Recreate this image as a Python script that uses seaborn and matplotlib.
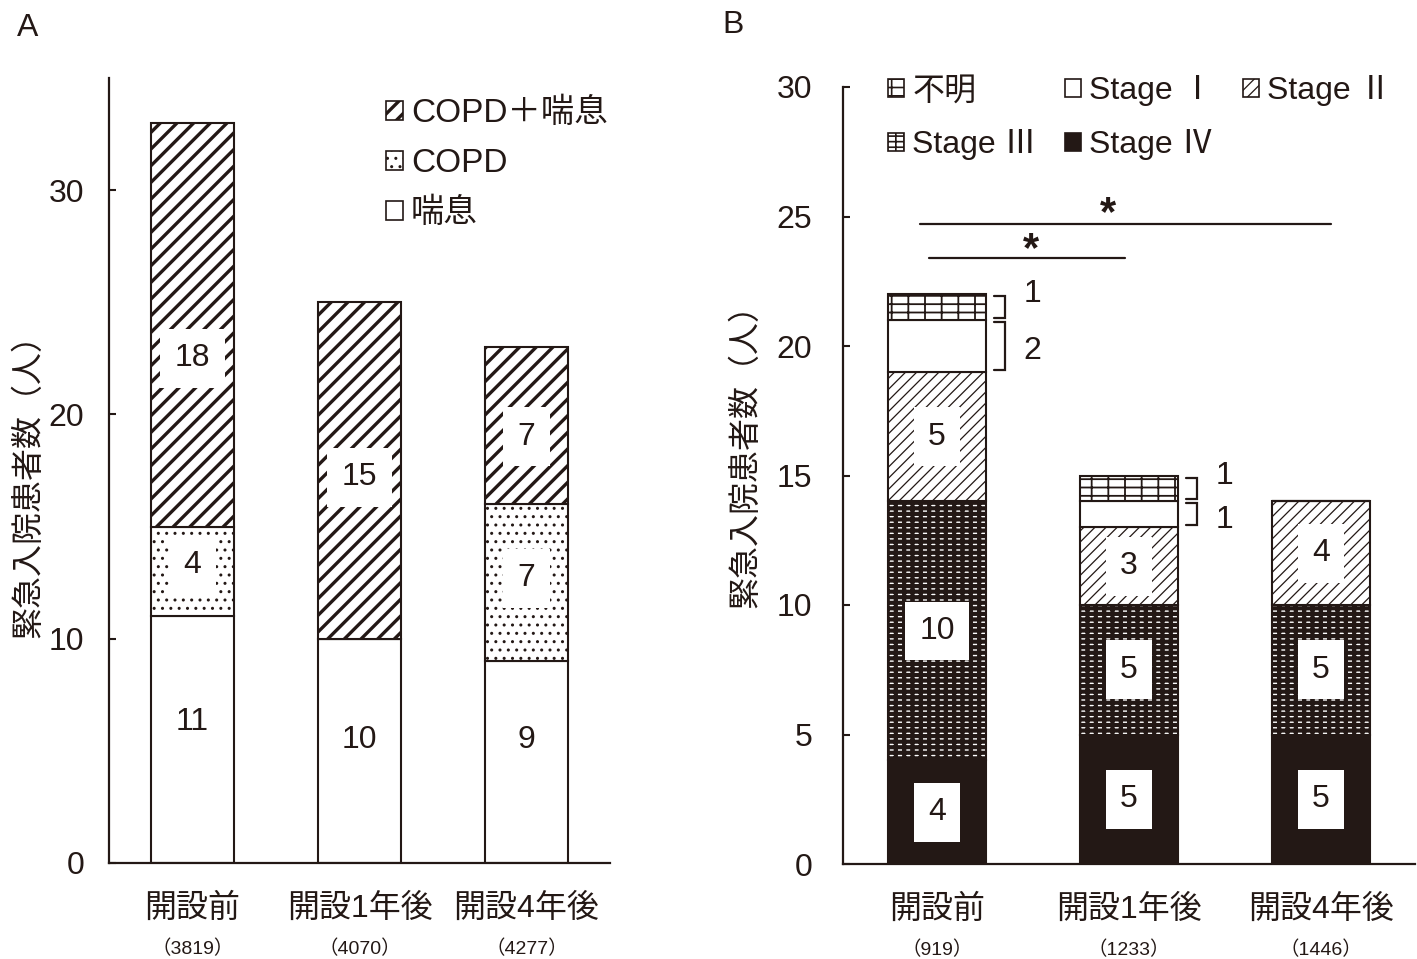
import numpy as np
import pandas as pd
import matplotlib
matplotlib.use("Agg")
import matplotlib.pyplot as plt
import matplotlib.transforms as mtrans
from matplotlib.patches import Patch
import seaborn as sns

# ---------------- data ----------------
periods = ['開設前', '開設1年後', '開設4年後']
n_a = ['（3819）', '（4070）', '（4277）']
n_b = ['（919）', '（1233）', '（1446）']

# Panel A
asthma = [11, 10, 9]
copd = [4, 0, 7]
copd_asthma = [18, 15, 7]

# Panel B
stage4 = [4, 5, 5]
stage3 = [10, 5, 5]
stage2 = [5, 3, 4]
stage1 = [2, 1, 0]
unknown = [1, 1, 0]

# significance annotations (x_start, x_end, y)
sig_lines = [(-0.09, 2.05, 24.7), (-0.04, 0.98, 23.4)]
sig_stars = [(0.89, 25.1), (0.49, 23.7)]

# label nudges (in data units) for panel A value labels
nudge_A = {'喘息': [0.8, 0.5, 1.0], 'COPD': [0.3, 0, 0.2], 'COPD＋喘息': [-1.5, -0.3, -0.5]}

# ---------------- style ----------------
sns.set_theme(style="white")
INK = '#231815'
plt.rcParams['font.family'] = ['Liberation Sans', 'Noto Sans CJK JP', 'DejaVu Sans']
plt.rcParams['text.color'] = INK
plt.rcParams['axes.edgecolor'] = INK
plt.rcParams['xtick.color'] = INK
plt.rcParams['ytick.color'] = INK
plt.rcParams['hatch.color'] = INK

fig = plt.figure(figsize=(14.17, 9.59), dpi=100)
axA = fig.add_axes([109 / 1417, 1 - 863 / 959, (610 - 109) / 1417, (863 - 78) / 959])
axB = fig.add_axes([843 / 1417, 1 - 864 / 959, (1415 - 843) / 1417, (864 - 87) / 959])


def hatch_lw(artist, lw):
    """Make the artist draw its hatch with the given line width."""
    if hasattr(artist, 'set_hatch_linewidth'):
        try:
            artist.set_hatch_linewidth(lw)
        except Exception:
            pass
    orig = artist.draw

    def draw(renderer, *a, **k):
        with plt.rc_context({'hatch.linewidth': lw}):
            return orig(renderer, *a, **k)
    artist.draw = draw


def stack_layer(ax, values, bottom, face, hatch, hlw, width):
    df = pd.DataFrame({'period': periods, 'count': values})
    n0 = len(ax.patches)
    sns.barplot(data=df, x='period', y='count', ax=ax, bottom=bottom,
                width=width, color=face, saturation=1, edgecolor=INK,
                linewidth=1.5, hatch=hatch, errorbar=None)
    new = ax.patches[n0:]
    for p in new:
        hatch_lw(p, hlw)
    return new


def boxed_labels(ax, values, bottom, nudge=None):
    nudge = nudge if nudge is not None else [0] * len(values)
    for i, (v, b, d) in enumerate(zip(values, bottom, nudge)):
        if v == 0:
            continue
        ax.text(i, b + v / 2 + d, str(v), ha='center', va='center', fontsize=23,
                color=INK, zorder=5,
                bbox=dict(boxstyle='square,pad=0.45', fc='white', ec='none'))


# ---------------- Panel A ----------------
WA = 0.5
HATCH_A = {'COPD＋喘息': ('//', 2.4), 'COPD': ('..', 1.0), '喘息': (None, 1.0)}
bot = np.zeros(3)
for name, vals in (('喘息', asthma), ('COPD', copd), ('COPD＋喘息', copd_asthma)):
    h, lw = HATCH_A[name]
    stack_layer(axA, vals, bot.copy(), 'white', h, lw, WA)
    boxed_labels(axA, vals, bot, nudge_A[name])
    bot = bot + np.array(vals)

axA.set_ylim(0, 35)
axA.set_xlim(-0.5, 2.5)
axA.set_yticks([0, 10, 20, 30])

handlesA = [Patch(facecolor='white', edgecolor=INK, hatch=HATCH_A[k][0], linewidth=1.2, label=k)
            for k in ('COPD＋喘息', 'COPD', '喘息')]
legA = axA.legend(handles=handlesA, loc='upper left', bbox_to_anchor=(0.553, 0.975),
                  frameon=False, fontsize=24, handlelength=0.5, handleheight=0.5,
                  handletextpad=0.25, labelspacing=0.57, borderpad=0, borderaxespad=0)
for p, k in zip(legA.get_patches(), ('COPD＋喘息', 'COPD', '喘息')):
    hatch_lw(p, HATCH_A[k][1])

# ---------------- Panel B ----------------
WB = 0.51
HATCH_B = {'Stage Ⅳ': (INK, None, 1.0), 'Stage Ⅲ': ('white', '---||', 3.0),
           'Stage Ⅱ': ('white', '///', 0.9), 'Stage Ⅰ': ('white', None, 1.0),
           '不明': ('white', '--|', 1.3)}
bot = np.zeros(3)
bottoms = {}
for name, vals in (('Stage Ⅳ', stage4), ('Stage Ⅲ', stage3), ('Stage Ⅱ', stage2),
                   ('Stage Ⅰ', stage1), ('不明', unknown)):
    face, h, lw = HATCH_B[name]
    stack_layer(axB, vals, bot.copy(), face, h, lw, WB)
    bottoms[name] = bot.copy()
    if name in ('Stage Ⅳ', 'Stage Ⅲ', 'Stage Ⅱ'):
        boxed_labels(axB, vals, bot)
    bot = bot + np.array(vals)

# outside labels with brackets
for name, vals, dy in (('Stage Ⅰ', stage1, -0.2), ('不明', unknown, 0.5)):
    for i, (v, b) in enumerate(zip(vals, bottoms[name])):
        if v == 0:
            continue
        xr = i + WB / 2
        x0, x1 = xr + 0.04, xr + 0.10
        y0, y1 = b + 0.08, b + v - 0.08
        axB.plot([x0, x1, x1, x0], [y1, y1, y0, y0], color=INK, lw=1.6,
                 solid_joinstyle='miter', clip_on=False)
        axB.text(xr + 0.24, b + v / 2 + dy, str(v), ha='center', va='center',
                 fontsize=23, color=INK)

for (xa, xb, y) in sig_lines:
    axB.plot([xa, xb], [y, y], color=INK, lw=1.6)
for (xs, ys) in sig_stars:
    axB.text(xs, ys, '*', ha='center', va='center', fontsize=30,
             fontweight='bold', color=INK)

axB.set_ylim(0, 30)
axB.set_xlim(-0.49, 2.49)
axB.set_yticks([0, 5, 10, 15, 20, 25, 30])

orderB = ['不明', 'Stage Ⅲ', 'Stage Ⅰ', 'Stage Ⅳ', 'Stage Ⅱ']
handlesB = [Patch(facecolor=HATCH_B[k][0], edgecolor=INK, hatch=HATCH_B[k][1],
                  linewidth=1.2, label=k) for k in orderB]
legB = axB.legend(handles=handlesB, loc='upper left', bbox_to_anchor=(0.079, 1.015),
                  ncol=3, frameon=False, fontsize=23, handlelength=0.5, handleheight=0.5,
                  handletextpad=0.25, labelspacing=0.72, columnspacing=0.9,
                  borderpad=0, borderaxespad=0)
for p, k in zip(legB.get_patches(), orderB):
    hatch_lw(p, min(HATCH_B[k][2], 1.2))

# ---------------- axes styling ----------------
for ax, ns in ((axA, n_a), (axB, n_b)):
    ax.set_xlabel('')
    ax.set_ylabel('緊急入院患者数（人）', fontsize=23, color=INK)
    for s in ('top', 'right'):
        ax.spines[s].set_visible(False)
    for s in ('left', 'bottom'):
        ax.spines[s].set_linewidth(1.6)
        ax.spines[s].set_color(INK)
    ax.tick_params(axis='y', direction='in', length=5, width=1.5, labelsize=23, pad=18,
                   left=True)
    ax.tick_params(axis='x', length=0, labelsize=23, pad=22)
    trans = mtrans.blended_transform_factory(ax.transData, ax.transAxes)
    for i, t in enumerate(ns):
        ax.text(i, -0.11, t, transform=trans, ha='center', va='center',
                fontsize=14, color=INK)

axA.yaxis.set_label_coords(-0.13, 0.49)
axB.yaxis.set_label_coords(-0.142, 0.535)
axB.tick_params(axis='y', pad=22)

fig.text(28 / 1417, 1 - 28 / 959, 'A', fontsize=23, ha='center', va='center')
fig.text(733 / 1417, 1 - 25 / 959, 'B', fontsize=23, ha='center', va='center')

fig.savefig('out.png', dpi=100)
